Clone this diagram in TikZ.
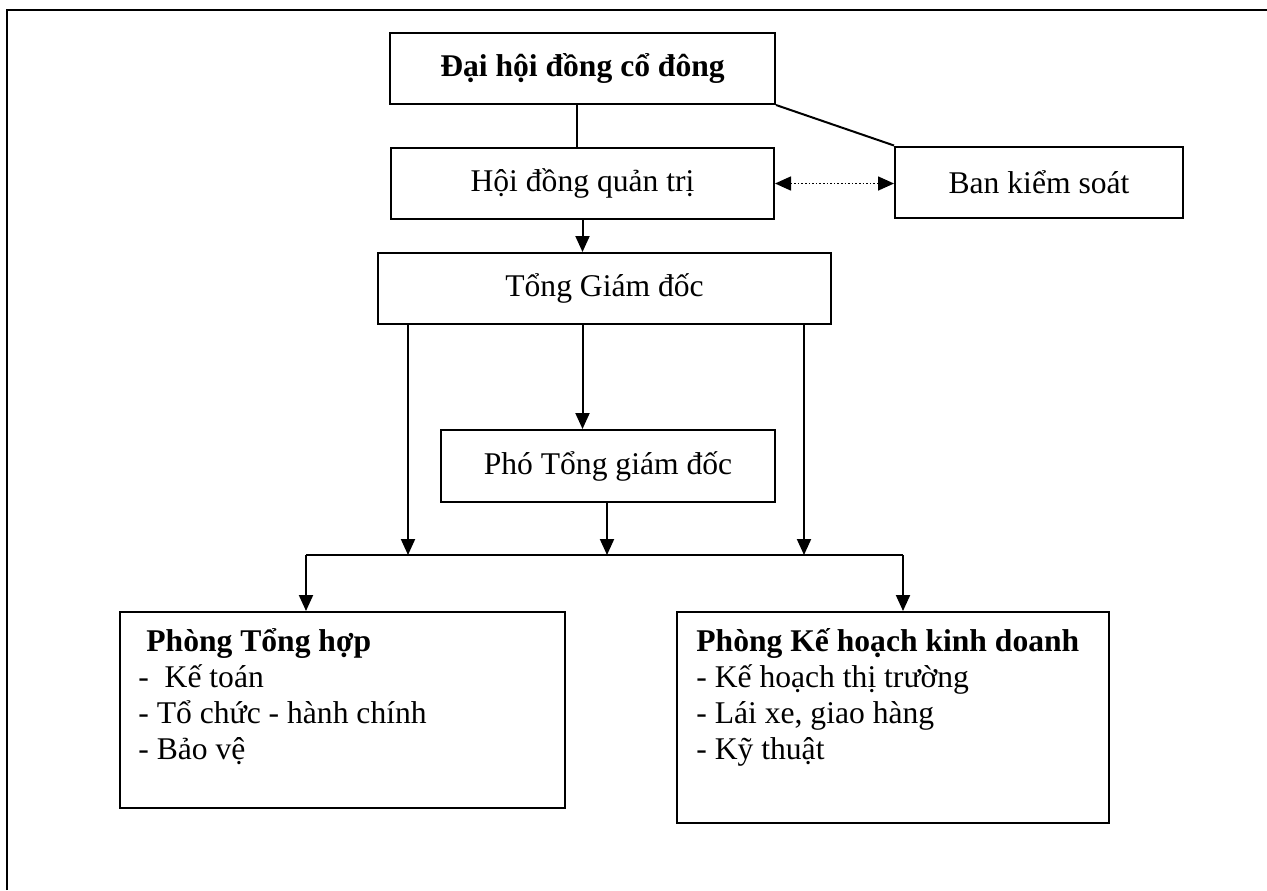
\documentclass[tikz,border=0pt]{standalone}
\usepackage{fontspec}
\setmainfont{Liberation Serif}
\usetikzlibrary{arrows.meta,positioning}
\tikzset{
    box/.style={draw,line width=1pt,rectangle,inner sep=0pt,align=center},
    link/.style={line width=1pt},
    arr/.style={line width=1pt,-{Triangle[length=8pt,width=7pt]}},
    both/.style={line width=0.8pt,densely dotted,
        {Triangle[length=8pt,width=7pt]}-{Triangle[length=8pt,width=7pt]}},
    listtext/.style={anchor=base west,inner sep=0pt},
}

\begin{document}
\begin{tikzpicture}[x=0.5pt,y=-0.5pt,font=\fontsize{15.8}{18}\selectfont]
                \useasboundingbox
                    (0,0) rectangle (1267,890);
                \draw[line width=1pt]
                    (7,890) -- (7,10) -- (1267,10);
                % upper boxes
                \node[box,minimum width=192.5pt,minimum height=35.5pt,font=\fontsize{15.8}{18}\selectfont\bfseries]
                    (dhcd) at (582.5,68.5) {Đại hội đồng cổ đông};
                \node[box,minimum width=191.5pt,minimum height=35.5pt]
                    (hdqt) at (582.5,183.5) {Hội đồng quản trị};
                \node[box,minimum width=144pt,minimum height=35.5pt]
                    (bks) at (1039,182) {Ban kiểm soát};
                \node[box,minimum width=226.5pt,minimum height=35.5pt]
                    (tgd) at (604.5,288.5) {Tổng Giám đốc};
                \node[box,minimum width=167pt,minimum height=36pt]
                    (ptgd) at (608,466) {Phó Tổng giám đốc};
                % lower boxes
                \node[box,minimum width=222.5pt,minimum height=98pt]
                    (pth) at (342.5,710) {};
                \node[box,minimum width=216pt,minimum height=105.5pt]
                    (pkh) at (893,717.5) {};
                \node[listtext]
                    (pthtxt) at ([shift={(19,40)}]pth.north west)
                    {\parbox[t]{210pt}{{\bfseries\hspace*{4pt}Phòng Tổng hợp}\\
                    -~~Kế toán\\- Tổ chức - hành chính\\- Bảo vệ}};
                \node[listtext]
                    (pkhtxt) at ([shift={(20,40)}]pkh.north west)
                    {\parbox[t]{210pt}{{\bfseries Phòng Kế hoạch kinh doanh}\\
                    - Kế hoạch thị trường\\- Lái xe, giao hàng\\- Kỹ thuật}};
                % bus
                \coordinate (busL) at (306,555);
                \coordinate (busR) at (903,555);
                \coordinate (b1) at (408,555);
                \coordinate (b2) at (607,555);
                \coordinate (b3) at (804,555);
                % connectors
                \draw[link]
                    ([xshift=-2.75pt]dhcd.south) -- ([xshift=-2.75pt]hdqt.north);
                \draw[link]
                    (dhcd.south east) -- (bks.north west);
                \draw[both]
                    (hdqt.east) -- (hdqt.east -| bks.west);
                \draw[arr]
                    (hdqt.south) -- (hdqt.south |- tgd.north);
                \draw[arr]
                    (tgd.south -| hdqt.south) -- (ptgd.north -| hdqt.south);
                \draw[arr]
                    (tgd.south -| b1) -- (b1);
                \draw[arr]
                    (ptgd.south -| b2) -- (b2);
                \draw[arr]
                    (tgd.south -| b3) -- (b3);
                \draw[link]
                    (busL) -- (busR);
                \draw[arr]
                    (busL) -- (pth.north -| busL);
                \draw[arr]
                    (busR) -- (pkh.north -| busR);
            \end{tikzpicture}
\end{document}
